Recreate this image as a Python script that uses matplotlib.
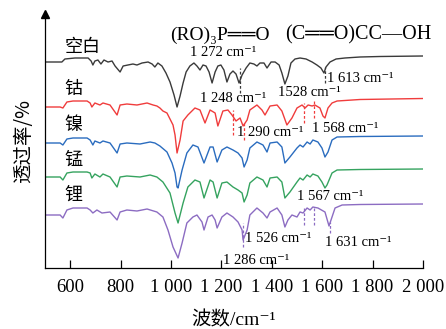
import numpy as np
import matplotlib
matplotlib.use("Agg")
import matplotlib.pyplot as plt

plt.rcParams['font.family'] = ['Liberation Serif', 'Noto Sans CJK SC', 'DejaVu Sans']

# FTIR spectra (wavenumber cm^-1, offset transmittance a.u.)
wn_blank = [500, 540, 567, 579, 619, 671, 683, 690, 698, 710, 722, 734, 750, 766, 778, 798, 810, 829, 849, 865,
            885, 909, 925, 936, 948, 964, 980, 996, 1012, 1024, 1036, 1048, 1060, 1075, 1091, 1103, 1115, 1127,
            1139, 1151, 1163, 1175, 1186, 1198, 1210, 1222, 1234, 1246, 1258, 1270, 1282, 1298, 1313, 1329, 1341,
            1353, 1369, 1381, 1397, 1413, 1429, 1440, 1452, 1464, 1476, 1492, 1512, 1536, 1560, 1579, 1595, 1607,
            1615, 1631, 1655, 1690, 1750, 1829, 2000]
t_blank = [206, 206, 206, 209, 210, 210, 207, 203, 207, 208, 204, 208, 206, 207, 202, 196, 202, 203, 204, 203,
           205, 206, 204, 201, 205, 202, 195, 186, 173, 161, 172, 185, 196, 202, 205, 202, 198, 203,
           202, 196, 185, 196, 202, 203, 198, 186, 194, 197, 194, 185, 193, 200, 205, 204, 202,
           205, 205, 200, 206, 206, 203, 195, 184, 192, 205, 209, 210, 209, 206, 203, 200, 195,
           201, 206, 209, 210, 211, 211.5, 212]

wn_co = [500, 560, 571, 587, 611, 667, 679, 686, 698, 718, 730, 758, 786, 798, 825, 865, 905, 929, 944, 956, 968,
         984, 996, 1008, 1016, 1024, 1036, 1048, 1067, 1095, 1115, 1135, 1155, 1175, 1186, 1206, 1226, 1242,
         1258, 1274, 1286, 1302, 1313, 1341, 1361, 1373, 1393, 1421, 1440, 1460, 1480, 1500, 1520, 1532, 1544,
         1560, 1571, 1591, 1603, 1611, 1623, 1639, 1659, 1750, 2000]
t_co = [161, 161, 160, 166, 167, 167, 165, 161, 165, 163, 165, 163, 153, 163, 164, 163, 165, 163, 162, 160, 157,
        155, 149, 143, 133, 115, 128, 147, 153, 160, 158, 145, 158, 155, 142, 157, 158, 153,
        147, 150, 142, 148, 158, 163, 158, 153, 162, 163, 157, 143, 150, 160, 163, 160, 163,
        162, 163, 160, 152, 150, 160, 165, 167, 168.5, 169.5]

wn_ni = [500, 560, 571, 587, 611, 667, 679, 690, 698, 718, 730, 758, 786, 798, 825, 877, 917, 936, 956, 984, 1004,
         1016, 1024, 1028, 1044, 1063, 1087, 1107, 1131, 1155, 1167, 1183, 1202, 1222, 1246, 1266, 1282, 1290,
         1302, 1313, 1341, 1365, 1381, 1393, 1421, 1440, 1452, 1472, 1500, 1512, 1524, 1540, 1552, 1563, 1583,
         1599, 1611, 1623, 1639, 1659, 1750, 2000]
t_ni = [125, 125, 123, 129, 130, 130, 128, 123, 127, 125, 127, 125, 115, 124, 125, 124, 126, 125, 122, 116, 105,
        95, 81, 80, 98, 115, 123, 121, 105, 121, 121, 106, 118, 121, 118, 115, 110, 101,
        108, 120, 126, 123, 116, 125, 126, 121, 105, 111, 120, 123, 121, 126, 124, 128, 126,
        120, 111, 116, 128, 131, 131.5, 132]

wn_mn = [500, 560, 571, 587, 611, 667, 679, 686, 698, 718, 730, 758, 786, 798, 825, 877, 917, 944, 968, 996, 1016,
         1028, 1048, 1067, 1095, 1115, 1131, 1155, 1167, 1183, 1202, 1222, 1246, 1266, 1282, 1290, 1302, 1313,
         1341, 1365, 1381, 1393, 1421, 1440, 1452, 1472, 1500, 1512, 1524, 1540, 1552, 1563, 1583, 1599, 1611,
         1619, 1639, 1659, 1750, 2000]
t_mn = [91, 91, 88, 95, 96, 96, 95, 90, 94, 91, 94, 91, 81, 91, 92, 91, 93, 91, 86, 75, 55,
        45, 65, 81, 88, 86, 70, 88, 86, 70, 85, 86, 81, 78, 75, 66, 73, 85,
        91, 88, 81, 90, 91, 86, 70, 76, 86, 90, 88, 93, 91, 94, 92, 86, 80,
        83, 95, 98, 98.5, 99]

wn_li = [500, 560, 571, 587, 611, 667, 679, 690, 706, 726, 758, 786, 798, 825, 865, 905, 944, 968, 988, 1008, 1028,
         1044, 1063, 1087, 1103, 1123, 1131, 1147, 1163, 1175, 1183, 1202, 1222, 1246, 1266, 1282, 1286, 1302,
         1313, 1341, 1365, 1381, 1393, 1421, 1440, 1452, 1464, 1480, 1500, 1512, 1524, 1540, 1552, 1563, 1583,
         1611, 1627, 1639, 1651, 1679, 1750, 2000]
t_li = [53, 53, 50, 58, 60, 60, 58, 55, 58, 55, 56, 48, 56, 58, 57, 59, 56, 51, 38, 21, 10,
        25, 45, 51, 53, 46, 38, 51, 53, 48, 40, 51, 55, 51, 46, 38, 28, 38,
        53, 60, 55, 50, 56, 60, 53, 41, 48, 53, 51, 56, 55, 60, 58, 61, 60,
        56, 42, 51, 60, 63, 63.5, 64]

names = ['空白', '钴', '镍', '锰', '锂']
colors = ['#3a3a3a', '#f03c3c', '#2a6cbf', '#35a35f', '#8c6cc2']
series = [(wn_blank, t_blank), (wn_co, t_co), (wn_ni, t_ni), (wn_mn, t_mn), (wn_li, t_li)]

# marked peaks (wavenumber) for blank, Co and Li curves
peaks_blank = [1272, 1613]
peaks_co = [1248, 1290, 1528, 1568]
peaks_li = [1286, 1526, 1567, 1631]

fig = plt.figure(figsize=(4.46, 3.29), dpi=100)
ax = fig.add_axes([45/446, 61/329, 378/446, 254/329])

for (x, y), c in zip(series, colors):
    ax.plot(x, y, color=c, lw=1.0)

# short dashed marker lines
dash = (0, (2.2, 1.6))
for p, (y0, y1) in zip(peaks_blank, [(175, 200), (185, 201)]):
    ax.plot([p, p], [y0, y1], color=colors[0], lw=0.9, ls=dash)
for p, (y0, y1) in zip(peaks_co, [(133, 158), (128, 147), (145, 165), (150, 167)]):
    ax.plot([p, p], [y0, y1], color=colors[1], lw=0.9, ls=dash)
for p, (y0, y1) in zip(peaks_li, [(21, 45), (43, 60), (43, 61), (35, 46)]):
    ax.plot([p, p], [y0, y1], color=colors[4], lw=0.9, ls=dash)

# series names
for nm, yy in zip(names, [221, 179, 143, 108, 73]):
    ax.text(577, yy, nm, fontsize=13, va='center', ha='left', family=['Noto Sans CJK SC'])

# group labels
ax.text(996, 233, '(RO)₃P══O', fontsize=14, va='center', ha='left',
        family=['Liberation Serif', 'DejaVu Sans'])
ax.text(1452, 233, '(C══O)CC—OH', fontsize=14.5, va='center', ha='left',
        family=['Liberation Serif', 'DejaVu Sans'])

# peak annotations
notes = [('1 272 cm⁻¹', 1075, 216), ('1 613 cm⁻¹', 1619, 189), ('1 248 cm⁻¹', 1115, 170),
         ('1528 cm⁻¹', 1425, 176), ('1 290 cm⁻¹', 1262, 135), ('1 568 cm⁻¹', 1560, 140),
         ('1 567 cm⁻¹', 1500, 71), ('1 526 cm⁻¹', 1294, 29), ('1 631 cm⁻¹', 1611, 26),
         ('1 286 cm⁻¹', 1206, 8)]
for s, xx, yy in notes:
    ax.text(xx, yy, s, fontsize=10.5, va='center', ha='left',
            family=['Liberation Serif', 'DejaVu Sans'])

ax.set_xlim(500, 2000)
ax.set_ylim(0, 254)
ticks = [600, 800, 1000, 1200, 1400, 1600, 1800, 2000]
ax.set_xticks(ticks)
ax.set_xticklabels(['600', '800', '1 000', '1 200', '1 400', '1 600', '1 800', '2 000'], fontsize=13.5)
ax.tick_params(axis='x', direction='in', length=6, width=0.9, pad=8)
ax.set_yticks([])
for sp in ['top', 'right']:
    ax.spines[sp].set_visible(False)
for sp in ['left', 'bottom']:
    ax.spines[sp].set_linewidth(0.9)
ax.plot(0, 1, marker='^', markersize=6, color='black', transform=ax.transAxes, clip_on=False)

ax.set_xlabel('波数/cm⁻¹', fontsize=14, labelpad=11)
ax.set_ylabel('透过率/%', fontsize=14, family=['Noto Sans CJK SC'], labelpad=8)

fig.savefig('out.png', dpi=100)
